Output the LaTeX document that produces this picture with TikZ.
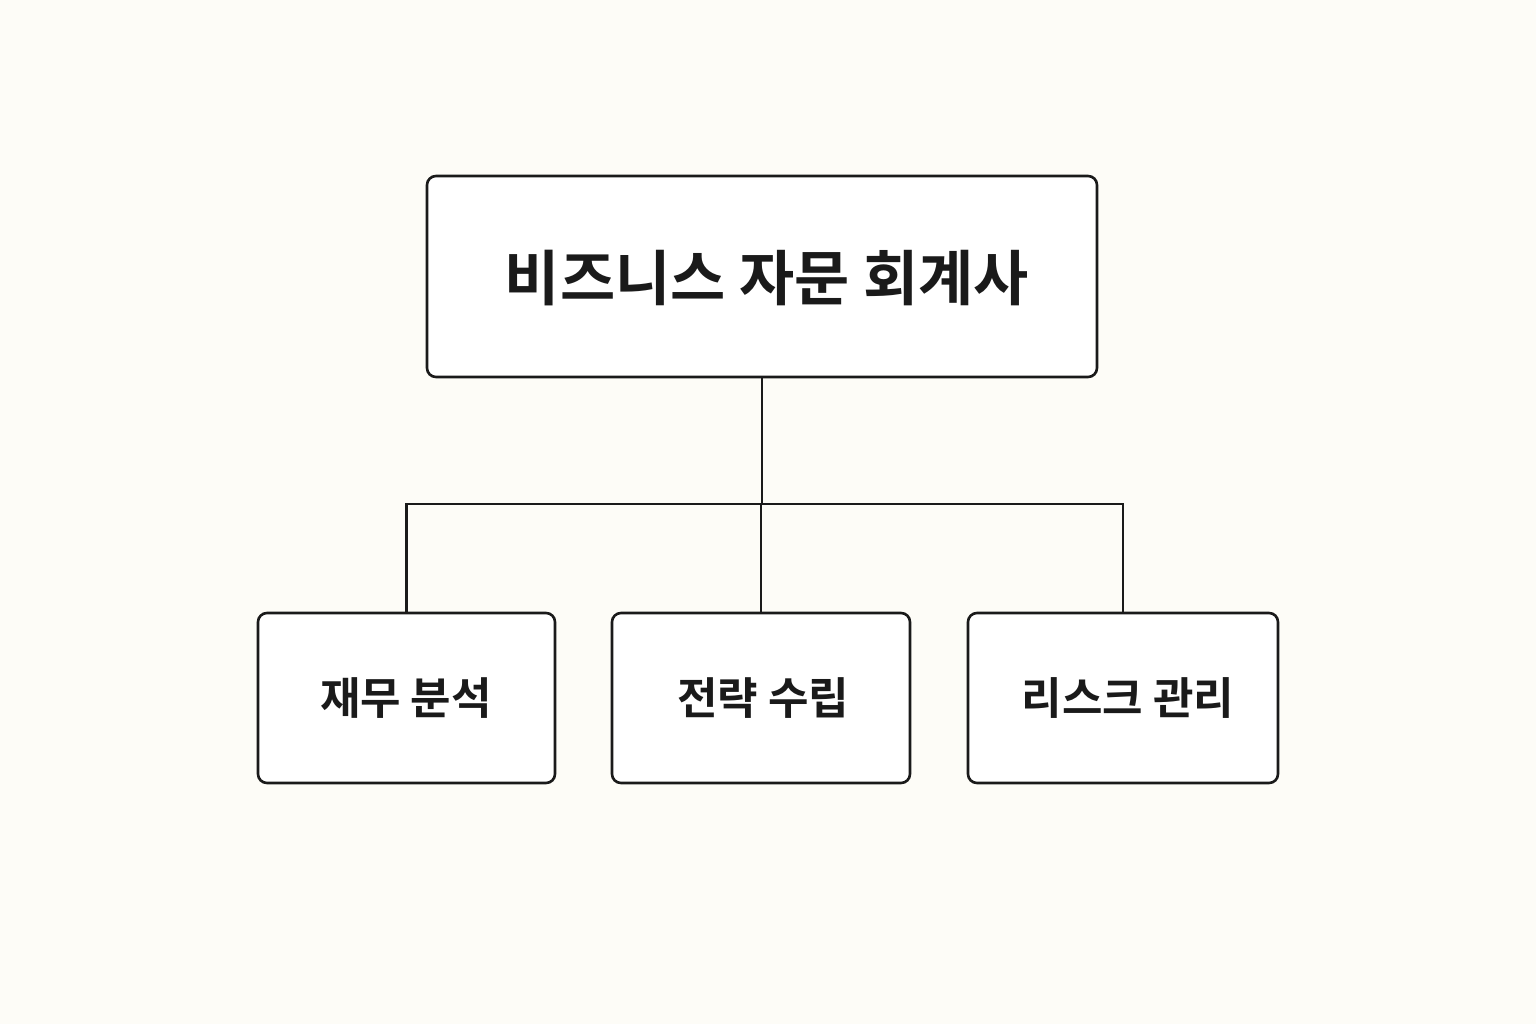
\documentclass[tikz,border=0pt]{standalone}
\usepackage{fontspec}
\newfontfamily\kr{Noto Sans CJK KR Bold}
\definecolor{bg}{HTML}{FDFCF7}
\definecolor{ink}{HTML}{1A1A1A}
\begin{document}
\begin{tikzpicture}[x=0.5pt,y=-0.5pt,
  box/.style={draw=ink,line width=1.3pt,rounded corners=4.5pt,fill=white,inner sep=0pt},
  conn/.style={draw=ink,line width=1.2pt}]
\fill[bg] (0,0) rectangle (1536,1024);
\useasboundingbox (0,0) rectangle (1536,1024);
\node[box,minimum width=335pt,minimum height=100.5pt] (top) at (762,276.5) {};
\node[font=\kr\fontsize{30}{36}\selectfont,text=ink] (toptxt) at (767,278) {비즈니스 자문 회계사};
\node[box,minimum width=148.5pt,minimum height=85pt] (a) at (406.5,698) {};
\node[box,minimum width=149pt,minimum height=85pt] (b) at (761,698) {};
\node[box,minimum width=155pt,minimum height=85pt] (c) at (1123,698) {};
\node[font=\kr\fontsize{22}{26}\selectfont,text=ink] at (406,698) {재무 분석};
\node[font=\kr\fontsize{22}{26}\selectfont,text=ink] at (763,698) {전략 수립};
\node[font=\kr\fontsize{22}{26}\selectfont,text=ink] at (1128,698) {리스크 관리};
\coordinate (bus) at (762,504);
\draw[conn] (top.south) -- (top.south |- bus);
\draw[conn] (a.north) -- (a.north |- bus) -- (c.north |- bus) -- (c.north);
\draw[conn] (b.north) -- (b.north |- bus);
\end{tikzpicture}
\end{document}
